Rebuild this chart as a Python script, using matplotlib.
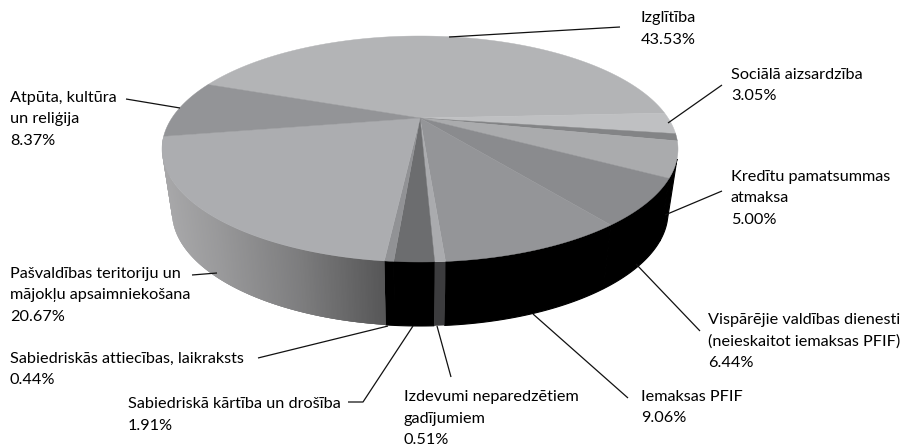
import numpy as np
import matplotlib
matplotlib.use("Agg")
import matplotlib.pyplot as plt

# --- data (clockwise from the top-left) ---
categories = ["Izglītība", "Sociālā aizsardzība", "(nav nosaukts)", "Kredītu pamatsummas atmaksa",
              "Vispārējie valdības dienesti", "Iemaksas PFIF", "Izdevumi neparedzētiem gadījumiem",
              "Sabiedriskā kārtība un drošība", "Sabiedriskās attiecības, laikraksts",
              "Pašvaldības teritoriju un mājokļu apsaimniekošana", "Atpūta, kultūra un reliģija"]
values = [43.53, 3.05, 1.02, 5.00, 6.44, 9.06, 0.51, 1.91, 0.44, 20.67, 8.37]
top_colors = ["#b3b4b6", "#bfc0c2", "#838486", "#aaabad", "#8a8b8e", "#949598",
              "#aaabae", "#6c6d6f", "#919295", "#acadb0", "#939497"]
side_colors = ["#000000", "#000000", "#000000", "#000000", "#000000", "#000000",
               "#3c3c3e", "#000000", "#000000", None, "#9a9b9d"]

labels = [
    ("Izglītība\n43.53%", 641, 18),
    ("Sociālā aizsardzība\n3.05%", 731, 75),
    ("Kredītu pamatsummas\natmaksa\n5.00%", 731, 177),
    ("Vispārējie valdības dienesti\n(neieskaitot iemaksas PFIF)\n6.44%", 708, 320),
    ("Iemaksas PFIF\n9.06%", 641, 397),
    ("Izdevumi neparedzētiem\ngadījumiem\n0.51%", 404, 397),
    ("Sabiedriskā kārtība un drošība\n1.91%", 128, 404),
    ("Sabiedriskās attiecības, laikraksts\n0.44%", 10, 359),
    ("Pašvaldības teritoriju un\nmājokļu apsaimniekošana\n20.67%", 10, 274),
    ("Atpūta, kultūra\nun reliģija\n8.37%", 10, 98),
]
leaders = [
    [(449, 37), (620, 27)],
    [(668, 123), (722, 85)],
    [(665, 215), (722, 191)],
    [(636, 264), (700, 331)],
    [(533, 314), (628, 398)],
    [(437, 326), (451, 377)],
    [(413, 326), (363, 402), (348, 402)],
    [(388, 326), (258, 358)],
    [(217, 273), (192, 275)],
    [(180, 108), (126, 99)],
]

# --- pie geometry (perspective view of a disc) ---
start_deg = -159.45
pole = -0.274
top_ell = (420, 149, 258, 113)
bot_ell = (420, 212, 248, 114)
gradient_x = [162, 217, 300, 385]
gradient_v = [0.66, 0.60, 0.49, 0.34]


def project(theta_deg, ell):
    t = np.radians(theta_deg)
    u, v = np.cos(t), np.sin(t)
    d = 1 + pole * v
    un = u * np.sqrt(1 - pole ** 2) / d
    vn = (v + pole) / d
    return ell[0] + ell[2] * un, ell[1] + ell[3] * vn


fig = plt.figure(figsize=(9.03, 4.46), dpi=100)
ax = fig.add_axes([0, 0, 1, 1])
ax.set_xlim(0, 903)
ax.set_ylim(446, 0)
ax.axis("off")

edges = start_deg + np.concatenate([[0], np.cumsum(values)]) * 360 / sum(values)
apex = (top_ell[0], top_ell[1] + top_ell[3] * pole)

# sides: solid slices, and one shaded slice built from overlapping strips
for i, val in enumerate(values):
    c = side_colors[i]
    if c is not None:
        th = np.linspace(edges[i], edges[i + 1], max(3, int(val * 8)))
        th = th[np.sin(np.radians(th)) > 0.35]  # only the front wall is visible
        if len(th) < 2:
            continue
        xt, yt = project(th, top_ell)
        xb, yb = project(th, bot_ell)
        black = c == "#000000"
        ax.fill(np.r_[xt, xb[::-1]], np.r_[yt, yb[::-1]], color=c,
                lw=0.8 if black else 0, zorder=1.0 if black else 1.1)
    else:
        th = np.linspace(edges[i], edges[i + 1], 260)
        xt, yt = project(th, top_ell)
        xb, yb = project(th, bot_ell)
        for k in range(len(th) - 1, 0, -1):
            j = max(k - 3, 0)
            g = np.interp((xt[k] + xt[j]) / 2, gradient_x, gradient_v)
            ax.fill([xt[j], xt[k], xb[k], xb[j]], [yt[j], yt[k], yb[k], yb[j]],
                    color=(g, g, min(1, g * 1.01)), lw=0, zorder=1.2)

# top surface
for i in range(len(values)):
    th = np.linspace(edges[i], edges[i + 1], max(3, int(values[i] * 6)))
    x, y = project(th, top_ell)
    ax.fill(np.r_[apex[0], x], np.r_[apex[1], y], color=top_colors[i], lw=0.3, zorder=2)

for pts in leaders:
    xs, ys = zip(*pts)
    ax.plot(xs, ys, color="#111111", lw=0.9, zorder=3, solid_capstyle="butt")

for txt, x, y in labels:
    for n, line in enumerate(txt.split("\n")):
        ax.text(x, y + n * 21.5, line, ha="left", va="center", fontsize=11.7, color="#000000",
                family=["Lato", "DejaVu Sans"])

fig.savefig("out.png", dpi=100)
